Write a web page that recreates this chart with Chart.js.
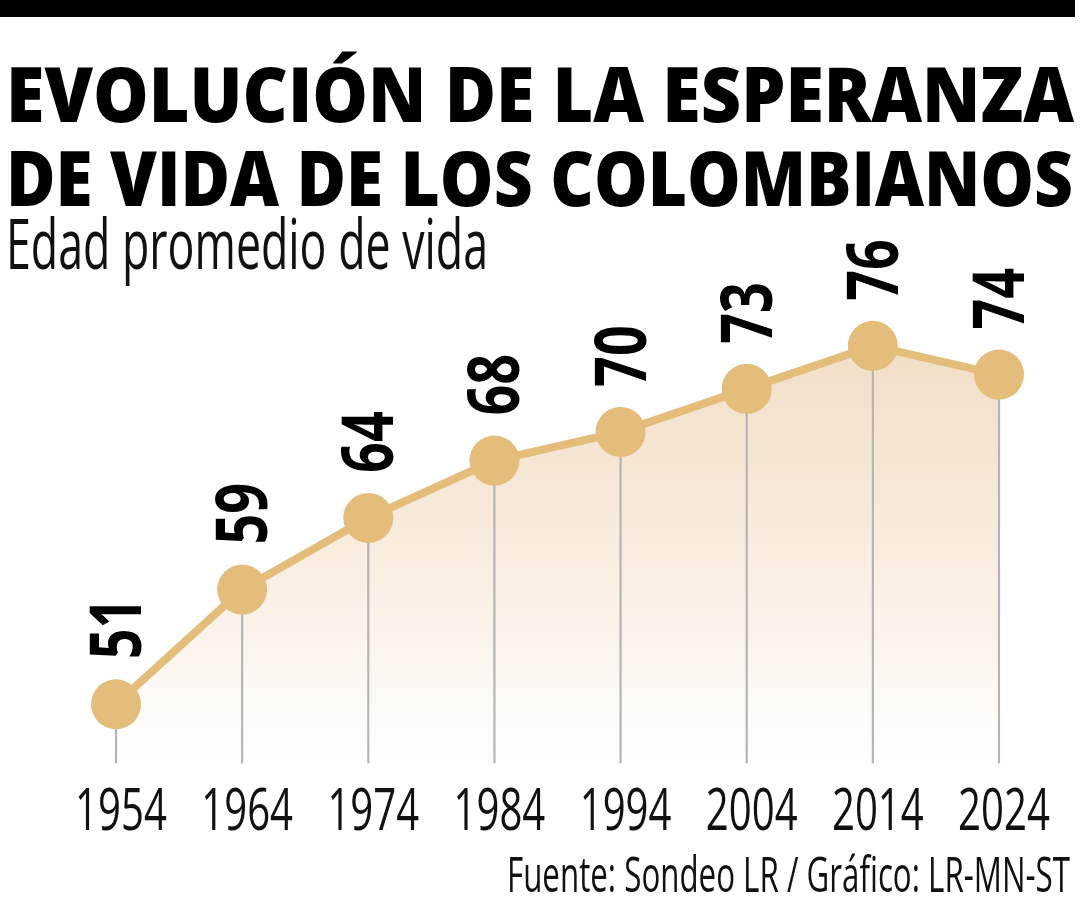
<!DOCTYPE html>
<html lang="es">
<head>
    <meta charset="UTF-8">
    <title>Evolución de la esperanza de vida de los colombianos</title>
    <script src="https://cdn.jsdelivr.net/npm/chart.js"></script>
    <style>
        html, body { margin: 0; padding: 0; background: #fff; }
        #wrap { position: relative; width: 1080px; height: 900px; overflow: hidden; }
        #grafico { position: absolute; left: 0; top: 0; }
        #textos { position: absolute; left: 0; top: 0; pointer-events: none; }
    </style>
</head>
<body>
<div id="wrap">
    <canvas id="grafico" width="1080" height="900"></canvas>
    <svg id="textos" width="1080" height="900" xmlns="http://www.w3.org/2000/svg">
        <rect x="0" y="0" width="1075" height="17" fill="#000"/>
        <text x="6" y="122" textLength="1068" lengthAdjust="spacingAndGlyphs"
              font-family="'Open Sans'" font-weight="800" font-size="77" fill="#000">EVOLUCIÓN DE LA ESPERANZA</text>
        <text x="6" y="206" textLength="1067" lengthAdjust="spacingAndGlyphs"
              font-family="'Open Sans'" font-weight="800" font-size="77" fill="#000">DE VIDA DE LOS COLOMBIANOS</text>
        <text x="6" y="269" textLength="482" lengthAdjust="spacingAndGlyphs"
              font-family="'Open Sans'" font-weight="400" font-size="70" fill="#111">Edad promedio de vida</text>
        <text x="507" y="892" textLength="563" lengthAdjust="spacingAndGlyphs"
              font-family="'Open Sans'" font-weight="400" font-size="49" fill="#111">Fuente: Sondeo LR / Gráfico: LR-MN-ST</text>
    </svg>
</div>

<script>
// datos
const anios = ['1954', '1964', '1974', '1984', '1994', '2004', '2014', '2024'];
const esperanzaVida = [51, 59, 64, 68, 70, 73, 76, 74];

const yMin = 46.9;
const yMax = 79.2;
const colorLinea = '#e4bd7b';

// etiquetas de valor (giradas) y años debajo
const etiquetas = {
    id: 'etiquetas',
    afterDatasetsDraw(chart) {
        const ctx = chart.ctx;
        const meta = chart.getDatasetMeta(1);
        ctx.save();
        ctx.fillStyle = '#000';
        meta.data.forEach((pt, i) => {
            // valor
            ctx.save();
            ctx.translate(pt.x, pt.y - 45);
            ctx.rotate(-Math.PI / 2);
            ctx.scale(0.76, 1);
            ctx.font = "700 71px 'Open Sans'";
            ctx.textAlign = 'left';
            ctx.textBaseline = 'alphabetic';
            ctx.fillText(String(esperanzaVida[i]), 0, 25);
            ctx.restore();

            // año
            ctx.save();
            ctx.translate(pt.x + 5, 830);
            ctx.scale(0.68, 1);
            ctx.font = "400 59px 'Open Sans'";
            ctx.textAlign = 'center';
            ctx.textBaseline = 'alphabetic';
            ctx.fillStyle = '#111';
            ctx.fillText(anios[i], 0, 0);
            ctx.restore();
        });
        ctx.restore();
    }
};

const ctx = document.getElementById('grafico').getContext('2d');
new Chart(ctx, {
    data: {
        labels: anios,
        datasets: [
            {
                // lineas verticales hasta cada punto
                type: 'bar',
                data: esperanzaVida,
                base: yMin,
                backgroundColor: '#b4b4b4',
                barThickness: 1.5,
                order: 2,
                clip: false
            },
            {
                type: 'line',
                data: esperanzaVida,
                borderColor: colorLinea,
                borderWidth: 8,
                pointRadius: 25,
                pointHoverRadius: 25,
                pointBackgroundColor: colorLinea,
                pointBorderWidth: 0,
                tension: 0,
                fill: 'start',
                clip: false,
                order: 1,
                backgroundColor: (c) => {
                    const area = c.chart.chartArea;
                    if (!area) return 'rgba(240,220,195,0.8)';
                    const g = c.chart.ctx.createLinearGradient(0, 346, 0, area.bottom);
                    g.addColorStop(0, 'rgba(241,222,198,1)');
                    g.addColorStop(0.6, 'rgba(250,240,229,1)');
                    g.addColorStop(1, 'rgba(255,255,255,1)');
                    return g;
                }
            }
        ]
    },
    options: {
        responsive: false,
        animation: false,
        layout: { padding: { left: 116, right: 81, top: 300, bottom: 137 } },
        scales: {
            x: { type: 'category', offset: false, display: false },
            y: { min: yMin, max: yMax, display: false }
        },
        plugins: {
            legend: { display: false },
            tooltip: { enabled: false },
            filler: { drawTime: 'beforeDatasetsDraw' }
        }
    },
    plugins: [etiquetas]
});
</script>
</body>
</html>
